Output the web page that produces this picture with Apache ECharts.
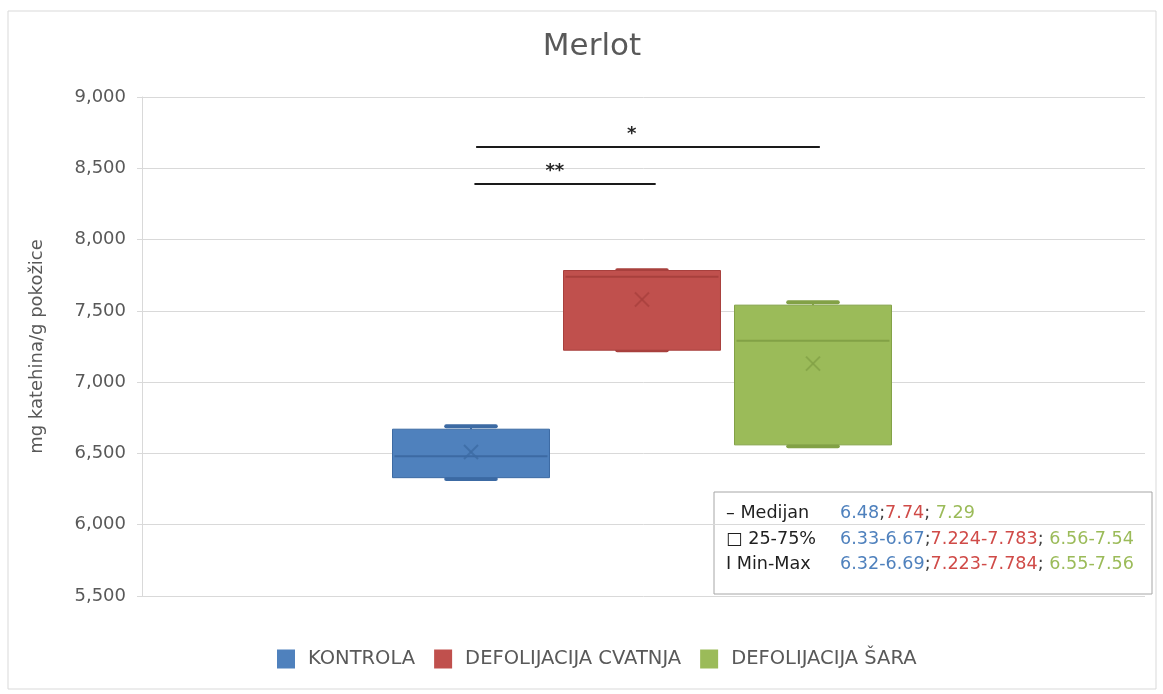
<!DOCTYPE html>
<html><head><meta charset="utf-8">
<script src="https://cdn.jsdelivr.net/npm/echarts@6/dist/echarts.min.js"></script>
<style>html,body{margin:0;padding:0;background:#fff}#c{width:1163px;height:694px}</style>
</head><body><div id="c"></div>
<script>
// ---- data ----
const categories = ['KONTROLA', 'DEFOLIJACIJA CVATNJA', 'DEFOLIJACIJA ŠARA'];
const minVals    = [6.32, 7.223, 6.55];
const q1Vals     = [6.33, 7.224, 6.56];
const medianVals = [6.48, 7.74, 7.29];
const q3Vals     = [6.67, 7.783, 7.54];
const maxVals    = [6.69, 7.784, 7.56];
const meanVals   = [6.51, 7.58, 7.13];
const yMin = 5.5, yMax = 9.0, yStep = 0.5;
// significance annotations (box-axis units: 0,1,2 = group index)
const sigFrom  = [0.03, 0.02];
const sigTo    = [2.04, 1.08];
const sigLevel = [8.65, 8.39];
const sigMark  = ['*', '**'];
const sigMarkAt = [0.94, 0.49];
const noteRows = ['Medijan', '25-75%', 'Min-Max'];
const title = 'Merlot';
const yName = 'mg katehina/g pokožice';

// ---- styles ----
const fills   = ['#4f81bd', '#c0504d', '#9bbb59'];
const darks   = ['#3c6aa3', '#a8403d', '#82a146'];
const txtCols = ['#4f81bd', '#d04b48', '#9bbb59'];
const FONT = 'DejaVu Sans';
const NOTE_FONT = '17.6px "' + FONT + '"';

const chart = echarts.init(document.getElementById('c'), null, {renderer: 'canvas'});

function renderBox(params, api) {
  const i = api.value(0);
  const bw = api.size([1, 0])[0];
  const w = bw * 0.918, capW = bw * 0.29;
  const pMin = api.coord([i, api.value(1)]);
  const pQ1 = api.coord([i, api.value(2)]);
  const pMed = api.coord([i, api.value(3)]);
  const pQ3 = api.coord([i, api.value(4)]);
  const pMax = api.coord([i, api.value(5)]);
  const pMean = api.coord([i, api.value(6)]);
  const k = params.seriesIndex;
  const fill = fills[k], dark = darks[k];
  const x = pQ1[0];
  const xs = 7;
  return {
    type: 'group',
    children: [
      {type: 'line', shape: {x1: x, y1: pQ3[1], x2: x, y2: pMax[1]}, style: {stroke: dark, lineWidth: 2}},
      {type: 'line', shape: {x1: x, y1: pQ1[1], x2: x, y2: pMin[1]}, style: {stroke: dark, lineWidth: 2}},
      {type: 'line', shape: {x1: x - capW / 2, y1: pMax[1], x2: x + capW / 2, y2: pMax[1]}, style: {stroke: dark, lineWidth: 4, lineCap: 'round'}},
      {type: 'line', shape: {x1: x - capW / 2, y1: pMin[1], x2: x + capW / 2, y2: pMin[1]}, style: {stroke: dark, lineWidth: 4, lineCap: 'round'}},
      {type: 'rect', shape: {x: x - w / 2, y: pQ3[1], width: w, height: pQ1[1] - pQ3[1]}, style: {fill: fill, stroke: dark, lineWidth: 1}},
      {type: 'line', shape: {x1: x - w / 2 + 2, y1: pMed[1], x2: x + w / 2 - 2, y2: pMed[1]}, style: {stroke: dark, lineWidth: 2}},
      {type: 'line', shape: {x1: pMean[0] - xs, y1: pMean[1] - xs, x2: pMean[0] + xs, y2: pMean[1] + xs}, style: {stroke: dark, lineWidth: 2, opacity: 0.8}},
      {type: 'line', shape: {x1: pMean[0] - xs, y1: pMean[1] + xs, x2: pMean[0] + xs, y2: pMean[1] - xs}, style: {stroke: dark, lineWidth: 2, opacity: 0.8}}
    ]
  };
}

const boxSeries = categories.map((name, i) => ({
  name: name,
  type: 'custom',
  xAxisIndex: 1, yAxisIndex: 1,
  itemStyle: {color: fills[i]},
  renderItem: renderBox,
  data: [[i, minVals[i], q1Vals[i], medianVals[i], q3Vals[i], maxVals[i], meanVals[i]]],
  z: 3
}));

const sigSeries = {
  name: 'sig',
  type: 'custom',
  xAxisIndex: 1, yAxisIndex: 1,
  silent: true,
  renderItem: function (params, api) {
    const a = api.coord([api.value(0), api.value(2)]);
    const b = api.coord([api.value(1), api.value(2)]);
    const m = api.coord([api.value(3), api.value(2)]);
    return {
      type: 'group',
      children: [
        {type: 'line', shape: {x1: a[0], y1: a[1], x2: b[0], y2: b[1]}, style: {stroke: '#1a1a1a', lineWidth: 2}},
        {type: 'text', x: m[0], y: m[1] - 4, style: {text: sigMark[params.dataIndex], textAlign: 'center', textVerticalAlign: 'bottom', fill: '#262626', font: 'bold 18px "' + FONT + '"'}}
      ]
    };
  },
  data: sigFrom.map((f, i) => [f, sigTo[i], sigLevel[i], sigMarkAt[i]]),
  z: 4
};

// annotation text
function fmt(v) { return String(v); }
const rowVals = [
  categories.map((c, i) => fmt(medianVals[i])),
  categories.map((c, i) => fmt(q1Vals[i]) + '-' + fmt(q3Vals[i])),
  categories.map((c, i) => fmt(minVals[i]) + '-' + fmt(maxVals[i]))
];
const rowIcons = ['–', '□', 'I'];
function richLine(vals) {
  return '{c0|' + vals[0] + '}{s|;}{c1|' + vals[1] + '}{s|;}{c2| ' + vals[2] + '}';
}
const rich = {
  c0: {fill: txtCols[0], font: NOTE_FONT},
  c1: {fill: txtCols[1], font: NOTE_FONT},
  c2: {fill: txtCols[2], font: NOTE_FONT},
  s: {fill: '#404040', font: NOTE_FONT}
};
const noteChildren = [
  {type: 'rect', shape: {x: 0, y: 0, width: 438, height: 102}, style: {fill: '#fff', stroke: '#a6a6a6', lineWidth: 1}}
];
noteRows.forEach((r, i) => {
  noteChildren.push({type: 'text', x: 12, y: 21.5 + i * 25.5, style: {text: rowIcons[i] + ' ' + r, fill: '#1f1f1f', font: NOTE_FONT, textVerticalAlign: 'middle'}});
  noteChildren.push({type: 'text', x: 126, y: 21.5 + i * 25.5, style: {text: richLine(rowVals[i]), rich: rich, textVerticalAlign: 'middle'}});
});

const option = {
  backgroundColor: '#fff',
  animation: false,
  title: {
    text: title, left: 587, textAlign: 'center', top: 26,
    textStyle: {fontFamily: FONT, fontSize: 31, fontWeight: 'normal', color: '#595959'}
  },
  legend: {
    data: categories, left: 272, top: 644, icon: 'rect', itemWidth: 18, itemHeight: 19, itemGap: 19,
    textStyle: {fontFamily: FONT, fontSize: 19.5, color: '#595959', padding: [0, 0, 0, 8]}
  },
  grid: [
    {left: 142, right: 18, top: 97, bottom: 98},
    {left: 385.5, width: 513, top: 97, bottom: 98}
  ],
  xAxis: [
    {type: 'category', gridIndex: 0, data: [''], axisLine: {show: false}, axisTick: {show: false}, axisLabel: {show: false}},
    {type: 'value', gridIndex: 1, min: -0.5, max: 2.5, show: false}
  ],
  yAxis: [
    {
      type: 'value', gridIndex: 0, min: yMin, max: yMax, interval: yStep,
      name: yName, nameLocation: 'middle', nameGap: 96,
      nameTextStyle: {fontFamily: FONT, fontSize: 18, color: '#595959'},
      axisLine: {show: true, lineStyle: {color: '#d9d9d9'}},
      axisTick: {show: true, length: 5, lineStyle: {color: '#d9d9d9'}},
      splitLine: {lineStyle: {color: '#d9d9d9', width: 1}},
      axisLabel: {fontFamily: FONT, fontSize: 18, color: '#595959', margin: 16,
        formatter: v => v.toFixed(3).replace('.', ',')}
    },
    {type: 'value', gridIndex: 1, min: yMin, max: yMax, show: false}
  ],
  graphic: [
    {type: 'rect', shape: {x: 8, y: 11, width: 1148, height: 678}, style: {fill: 'none', stroke: '#d9d9d9', lineWidth: 1}, z: 0},
    {type: 'group', x: 714, y: 492, children: noteChildren, z: 10}
  ],
  series: boxSeries.concat([sigSeries])
};
chart.setOption(option);
</script></body></html>
